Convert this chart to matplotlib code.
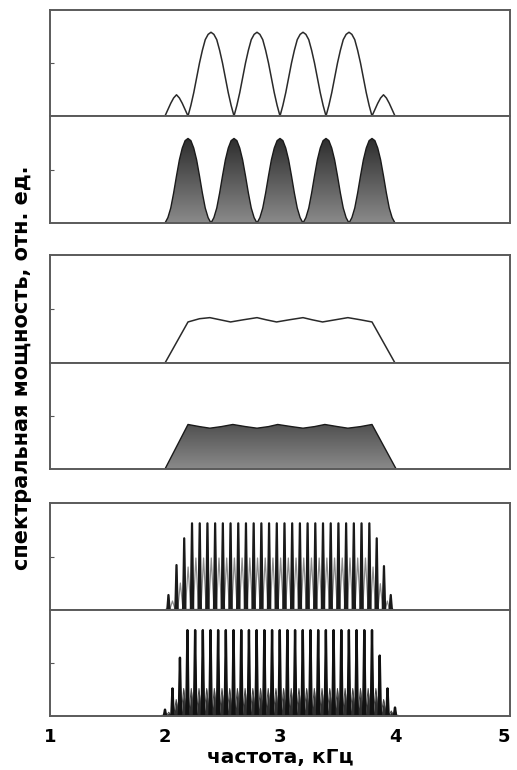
import numpy as np
import matplotlib
matplotlib.use('Agg')
import matplotlib.pyplot as plt
from matplotlib.colors import LinearSegmentedColormap

plt.rcParams['font.family'] = ['DejaVu Sans']

# --- data (frequency in kHz, power in rel. units) ---
# panel 1, upper: sidelobe + 4 main lobes + sidelobe, sampled every 0.025 kHz from 2.0
grid1 = np.linspace(2.0, 4.0, 81)
p1_top = [0.00, 0.06, 0.12, 0.17, 0.20, 0.17, 0.12, 0.06,
          0.00, 0.10, 0.22, 0.36, 0.50, 0.62, 0.72, 0.77, 0.79, 0.77, 0.72, 0.62, 0.50, 0.36, 0.22, 0.10,
          0.00, 0.10, 0.22, 0.36, 0.50, 0.62, 0.72, 0.77, 0.79, 0.77, 0.72, 0.62, 0.50, 0.36, 0.22, 0.10,
          0.00, 0.10, 0.22, 0.36, 0.50, 0.62, 0.72, 0.77, 0.79, 0.77, 0.72, 0.62, 0.50, 0.36, 0.22, 0.10,
          0.00, 0.10, 0.22, 0.36, 0.50, 0.62, 0.72, 0.77, 0.79, 0.77, 0.72, 0.62, 0.50, 0.36, 0.22, 0.10,
          0.00, 0.06, 0.12, 0.17, 0.20, 0.17, 0.12, 0.06, 0.00]
# panel 1, lower: five lobes peaking at 2.2, 2.6, 3.0, 3.4, 3.8
p1_bot = [0.00, 0.05, 0.14, 0.28, 0.44, 0.59, 0.70, 0.77, 0.79, 0.77, 0.70, 0.59, 0.44, 0.28, 0.14, 0.05,
          0.00, 0.05, 0.14, 0.28, 0.44, 0.59, 0.70, 0.77, 0.79, 0.77, 0.70, 0.59, 0.44, 0.28, 0.14, 0.05,
          0.00, 0.05, 0.14, 0.28, 0.44, 0.59, 0.70, 0.77, 0.79, 0.77, 0.70, 0.59, 0.44, 0.28, 0.14, 0.05,
          0.00, 0.05, 0.14, 0.28, 0.44, 0.59, 0.70, 0.77, 0.79, 0.77, 0.70, 0.59, 0.44, 0.28, 0.14, 0.05,
          0.00, 0.05, 0.14, 0.28, 0.44, 0.59, 0.70, 0.77, 0.79, 0.77, 0.70, 0.59, 0.44, 0.28, 0.14, 0.05,
          0.00]

# panel 2: flat-topped spectra with small ripple
p2_top_x = [2.00, 2.20, 2.30, 2.39, 2.48, 2.57, 2.68, 2.80, 2.88, 2.97, 3.08, 3.20, 3.28, 3.37,
            3.48, 3.59, 3.70, 3.80, 4.00]
p2_top_y = [0.00, 0.38, 0.41, 0.42, 0.40, 0.38, 0.40, 0.42, 0.40, 0.38, 0.40, 0.42, 0.40, 0.38,
            0.40, 0.42, 0.40, 0.38, 0.00]
p2_bot_x = [2.00, 2.20, 2.30, 2.39, 2.49, 2.59, 2.70, 2.80, 2.90, 2.98, 3.10, 3.20, 3.30, 3.39,
            3.50, 3.59, 3.70, 3.80, 4.01]
p2_bot_y = [0.00, 0.42, 0.40, 0.385, 0.40, 0.42, 0.40, 0.385, 0.40, 0.42, 0.40, 0.385, 0.40, 0.42,
            0.40, 0.385, 0.40, 0.42, 0.00]

# panel 3: fine comb of narrow peaks
p3_top_c = [2.030, 2.100, 2.167, 2.235, 2.302, 2.369, 2.436, 2.503, 2.570, 2.637, 2.704, 2.771,
            2.838, 2.905, 2.972, 3.039, 3.106, 3.173, 3.240, 3.307, 3.374, 3.441, 3.508, 3.575,
            3.642, 3.709, 3.777, 3.841, 3.904, 3.963]
p3_top_h = [0.14, 0.42, 0.67] + [0.81] * 24 + [0.67, 0.41, 0.14]
p3_top_mid = 0.50   # height of the faint lobes between the upper-comb peaks
p3_bot_c = [2.000, 2.065, 2.130, 2.195, 2.262, 2.329, 2.396, 2.462, 2.529, 2.596, 2.663, 2.730,
            2.797, 2.864, 2.931, 2.998, 3.064, 3.131, 3.198, 3.265, 3.332, 3.399, 3.466, 3.533,
            3.599, 3.666, 3.733, 3.800, 3.867, 3.935, 4.000]
p3_bot_h = [0.06, 0.26, 0.55] + [0.81] * 25 + [0.57, 0.26, 0.08]
p3_bot_mid = 0.26   # height of the dark filling between the lower-comb peaks

xticks = [1, 2, 3, 4, 5]


def comb(centres, heights, half_w, mid=0.0):
    # narrow peaks; in every gap a lower lobe of height `mid`
    xs, ys = [centres[0] - 2 * half_w], [0.0]
    for i, (c, h) in enumerate(zip(centres, heights)):
        xs += [c - half_w, c, c + half_w]
        ys += [0.0, h, 0.0]
        if mid > 0 and i < len(centres) - 1:
            m = min(mid, 0.6 * h, 0.6 * heights[i + 1])
            xs.append(0.5 * (c + centres[i + 1]))
            ys.append(m)
    xs.append(centres[-1] + 2 * half_w)
    ys.append(0.0)
    return np.array(xs), np.array(ys)


shade = LinearSegmentedColormap.from_list('shade', ['#8a8a8a', '#2a2a2a'])


def grad_fill(ax, x, y, top=0.82):
    poly = ax.fill_between(x, 0, y, color='none', lw=0)
    grad = np.linspace(0, 1, 256).reshape(-1, 1)
    img = ax.imshow(grad, cmap=shade, aspect='auto',
                    extent=[1, 5, 0, top], origin='lower', zorder=1)
    img.set_clip_path(poly.get_paths()[0], transform=ax.transData)
    ax.plot(x, y, color='#1a1a1a', lw=1.0, zorder=2)


fig = plt.figure(figsize=(5.17, 7.70), dpi=100)
W = 517.0
H = 770.0
# (top, bottom) pixel rows of every panel
rows = [(10, 116), (116, 223), (255, 363), (363, 469), (503, 610), (610, 716)]
axes = []
for top, bot in rows:
    ax = fig.add_axes([50 / W, 1 - bot / H, 460 / W, (bot - top) / H])
    ax.set_xlim(1, 5)
    ax.set_ylim(0, 1.0)
    ax.set_yticks([0.5])
    ax.set_yticklabels([])
    ax.tick_params(axis='y', direction='in', length=3, width=0.8, color='#555555')
    ax.set_xticks(xticks)
    ax.tick_params(axis='x', length=0, labelbottom=False)
    for s in ax.spines.values():
        s.set_color('#5a5a5a')
        s.set_linewidth(1.4)
    axes.append(ax)

axes[0].plot(grid1, p1_top, color='#2a2a2a', lw=1.1)
grad_fill(axes[1], grid1, np.array(p1_bot))

axes[2].plot(p2_top_x, p2_top_y, color='#2a2a2a', lw=1.1)
grad_fill(axes[3], np.array(p2_bot_x), np.array(p2_bot_y), top=0.7)

cx, cy = comb(p3_top_c, p3_top_h, 0.010, p3_top_mid)
axes[4].plot(cx, cy, color='#8c8c8c', lw=0.9)
cx, cy = comb(p3_top_c, p3_top_h, 0.010)
axes[4].plot(cx, cy, color='#1a1a1a', lw=1.6)

cx, cy = comb(p3_bot_c, p3_bot_h, 0.010, p3_bot_mid)
axes[5].fill_between(cx, 0, cy, color='#2e2e2e', lw=0)
axes[5].plot(cx, cy, color='#444444', lw=0.7)
cx, cy = comb(p3_bot_c, p3_bot_h, 0.010)
axes[5].plot(cx, cy, color='#111111', lw=1.7)

axes[5].tick_params(axis='x', labelbottom=True, pad=9, labelsize=13)
for lab in axes[5].get_xticklabels():
    lab.set_fontweight('bold')
axes[5].get_xticklabels()[-1].set_horizontalalignment('right')
axes[5].set_xlabel('частота, кГц', fontsize=14.5, fontweight='bold', labelpad=1)

fig.text(22 / W, 1 - 368 / H, 'спектральная мощность, отн. ед.', rotation=90,
         ha='center', va='center', fontsize=15, fontweight='bold')

fig.savefig('out.png', dpi=100)
